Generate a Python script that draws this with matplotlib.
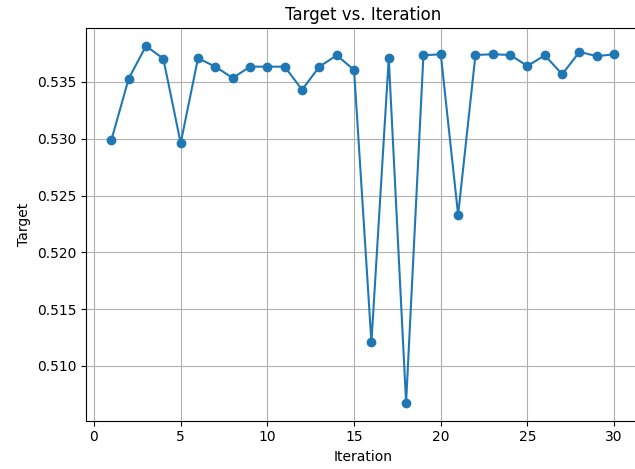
import matplotlib
matplotlib.use("Agg")
import matplotlib.pyplot as plt

iterations = list(range(1, 31))
target = [0.52986, 0.53529, 0.53817, 0.53705, 0.52962, 0.53709, 0.53635, 0.53535,
          0.53635, 0.53635, 0.53635, 0.53432, 0.53635, 0.53735, 0.53606, 0.51207,
          0.53709, 0.50675, 0.53735, 0.53744, 0.52330, 0.53738, 0.53744, 0.53738,
          0.53641, 0.53735, 0.53568, 0.53765, 0.53727, 0.53744]
xticks = [0, 5, 10, 15, 20, 25, 30]
yticks = [0.510, 0.515, 0.520, 0.525, 0.530, 0.535]

fig = plt.figure(figsize=(6.35, 4.69), dpi=100)
ax = fig.add_axes([0.1357, 0.103, 0.8711, 0.837])
ax.plot(iterations, target, marker='o', color='#1f77b4')
ax.set_xticks(xticks)
ax.set_yticks(yticks)
ax.set_title("Target vs. Iteration")
ax.set_xlabel("Iteration")
ax.set_ylabel("Target")
ax.grid(True)
fig.savefig("out.png", dpi=100)
